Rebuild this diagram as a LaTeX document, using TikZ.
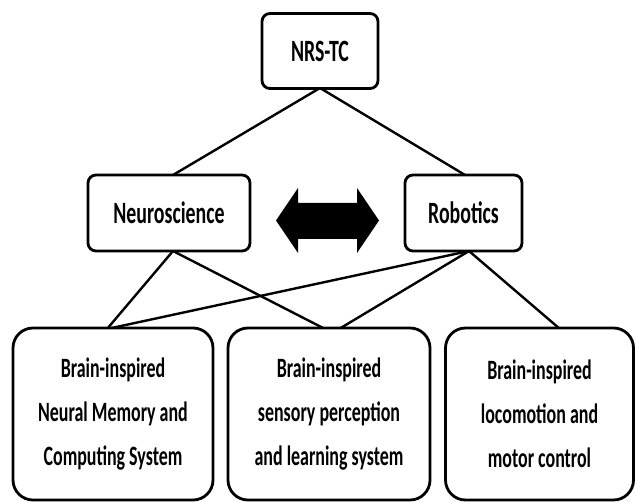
\documentclass[tikz,border=0pt]{standalone}
\usepackage{fontspec}
\setmainfont{Carlito}[FakeStretch=0.64]
\begin{document}
\begin{tikzpicture}[x=1pt,y=-1pt,
  topbox/.style={draw=black,line width=2.8pt,rounded corners=8pt,fill=white,
    font=\fontsize{31}{36}\selectfont\bfseries,inner sep=0pt},
  botbox/.style={draw=black,line width=2.8pt,rounded corners=20pt,fill=white,
    minimum height=172pt,align=center,
    font=\fontsize{28}{44}\selectfont\bfseries,inner sep=0pt},
  link/.style={draw=black,line width=2.4pt}]
\useasboundingbox (0,0) rectangle (636,502);
% connectors (drawn below the boxes)
\coordinate (nrsS) at (320,88);
\coordinate (neuN) at (173,175);
\coordinate (robN) at (465,175);
\coordinate (neuS) at (173,251);
\coordinate (robS) at (469,251);
\coordinate (b1N) at (107,329);
\coordinate (b2Na) at (325,329);
\coordinate (b2Nb) at (339,329);
\coordinate (b3N) at (560,329);
\draw[link] (nrsS) -- (neuN);
\draw[link] (nrsS) -- (robN);
\draw[link] (neuS) -- (b1N);
\draw[link] (neuS) -- (b2Na);
\draw[link] (robS) -- (b1N);
\draw[link] (robS) -- (b2Nb);
\draw[link] (robS) -- (b3N);
% boxes
\node[topbox,minimum width=116pt,minimum height=75pt] (nrs) at (320,51) {NRS-TC};
\node[topbox,minimum width=162pt,minimum height=76pt] (neuro) at (169,213) {Neuroscience};
\node[topbox,minimum width=117pt,minimum height=76pt] (robo) at (463.5,213) {Robotics};
\node[botbox,minimum width=200pt] (b1) at (113,414) {Brain-inspired\\Neural Memory and\\Computing System};
\node[botbox,minimum width=202pt] (b2) at (329,414) {Brain-inspired\\sensory perception\\and learning system};
\node[botbox,minimum width=188pt] (b3) at (539.5,414) {Brain-inspired\\locomotion and\\motor control};
% double arrow between Neuroscience and Robotics
\coordinate (arr) at (327.5,220.5);
\fill[black] (276,220.5) -- (298,188) -- (298,203) -- (357,203) -- (357,188)
  -- (379,220.5) -- (357,253) -- (357,239) -- (298,239) -- (298,253) -- cycle;
\end{tikzpicture}
\end{document}
